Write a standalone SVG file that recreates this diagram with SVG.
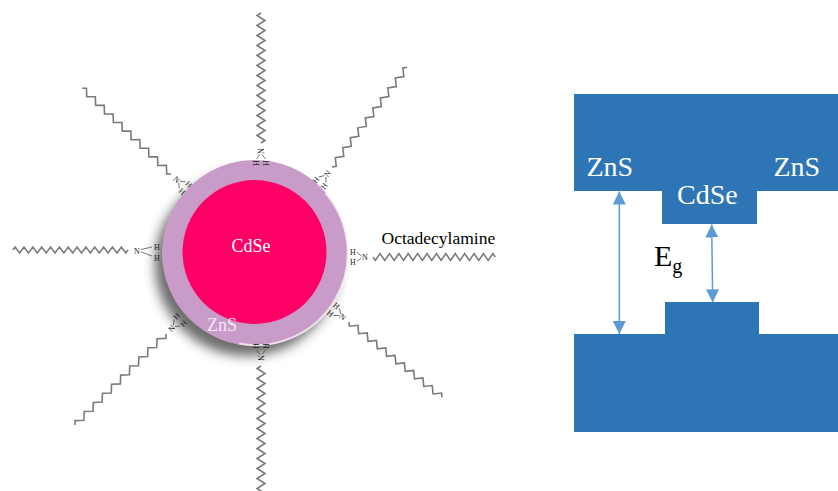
<svg xmlns="http://www.w3.org/2000/svg" xmlns:xlink="http://www.w3.org/1999/xlink" width="838" height="491" viewBox="0 0 838 491" font-family="'Liberation Serif', 'Times New Roman', serif">
  <style>
    .chain { fill: none; stroke: #7A7A7A; stroke-width: 1.6; stroke-linejoin: miter; vector-effect: non-scaling-stroke; }
    .bond { fill: none; stroke: #555555; stroke-width: 0.8; }
    .atom { font-family: 'Liberation Serif', 'Times New Roman', serif; font-size: 8px; fill: #222222; text-anchor: middle; }
    .band { fill: #2E75B6; }
    .bandlbl { font-family: 'Liberation Serif', 'Times New Roman', serif; font-size: 28px; fill: #FFFFFF; }
    .gap { stroke: #5B9BD5; stroke-width: 1.5; fill: none; marker-start: url(#tip); marker-end: url(#tip); }
  </style>
  <defs>
    <!-- alkyl chain running along +x, axis-aligned variant -->
    <path id="chainA" class="chain" d="M0,0 l2.5,4 l5,-8 l5,8 l5,-8 l5,8 l5,-8 l5,8 l5,-8 l5,8 l5,-8 l5,8 l5,-8 l5,8 l5,-8 l5,8 l5,-8 l5,8 l5,-8 l5,8 l5,-8 l5,8 l5,-8 l5,8 l5,-8 l5,8 l5,-8 l2.5,4"/>
    <!-- alkyl chain, longer bonds, used on the diagonals -->
    <path id="chainD" class="chain" d="M0,0 l3.25,3 l6.5,-6 l6.5,6 l6.5,-6 l6.5,6 l6.5,-6 l6.5,6 l6.5,-6 l6.5,6 l6.5,-6 l6.5,6 l6.5,-6 l6.5,6 l6.5,-6 l6.5,6 l6.5,-6 l6.5,6 l6.5,-6 l6.5,6 l6.5,-6 l3.25,3"/>
    <!-- amine head: chain leaves along +x, NH2 sits at -x -->
    <g id="headR">
      <text class="atom" x="-8" y="2.8">N</text>
      <line class="bond" x1="-11.5" y1="-1" x2="-16" y2="-4.5"/>
      <line class="bond" x1="-11.5" y1="1" x2="-16" y2="4.5"/>
      <text class="atom" x="-20" y="-2.2">H</text>
      <text class="atom" x="-20" y="7.8">H</text>
    </g>
    <!-- amine head: chain leaves along -x, NH2 sits at +x -->
    <g id="headL">
      <text class="atom" x="8" y="2.8">N</text>
      <line class="bond" x1="11.5" y1="-1" x2="16" y2="-4.5"/>
      <line class="bond" x1="11.5" y1="1" x2="16" y2="4.5"/>
      <text class="atom" x="20" y="-2.2">H</text>
      <text class="atom" x="20" y="7.8">H</text>
    </g>
    <filter id="soft" x="-30%" y="-30%" width="160%" height="160%">
      <feGaussianBlur stdDeviation="6"/>
    </filter>
    <marker id="tip" markerUnits="userSpaceOnUse" markerWidth="13" markerHeight="13" refX="13" refY="6.5" orient="auto-start-reverse" viewBox="0 0 13 13">
      <path d="M0,0 L13,6.5 L0,13 z" fill="#5B9BD5"/>
    </marker>
  </defs>

  <!-- core/shell nanocrystal -->
  <g id="particle">
    <circle cx="247" cy="264" r="92" fill="#3A3A3A" opacity="0.75" filter="url(#soft)"/>
    <circle cx="255" cy="253" r="93" fill="#C89BC8"/>
    <path d="M325.5,193.2 A92,92 0 0 1 239,343.6" fill="none" stroke="#FFFFFF" stroke-width="2" opacity="0.7"/>
    <circle cx="254.5" cy="252" r="72" fill="#FF0066"/>
    <text x="251" y="252" font-family="'Liberation Serif', 'Times New Roman', serif" font-size="18" fill="#FFFFFF" text-anchor="middle">CdSe</text>
    <text x="207" y="331" font-family="'Liberation Serif', 'Times New Roman', serif" font-size="18" fill="#F6E8F6">ZnS</text>
  </g>

  <!-- octadecylamine ligands -->
  <g id="ligand-top" transform="translate(261,143) rotate(-90)">
    <use xlink:href="#chainA"/>
    <use xlink:href="#headR"/>
  </g>
  <g id="ligand-bottom" transform="translate(261,366) rotate(90)">
    <use xlink:href="#chainA"/>
    <use xlink:href="#headR"/>
  </g>
  <g id="ligand-right" transform="translate(373,257)">
    <use xlink:href="#chainA" transform="scale(0.94,0.85)"/>
    <use xlink:href="#headR"/>
  </g>
  <g id="ligand-left">
    <use xlink:href="#chainA" transform="translate(128,250) scale(-0.885,0.75)"/>
    <text class="atom" x="137" y="253.5">N</text>
    <line class="bond" x1="141" y1="249.5" x2="152" y2="247"/>
    <line class="bond" x1="141" y1="252" x2="152" y2="256"/>
    <text class="atom" x="157" y="249.7">H</text>
    <text class="atom" x="157" y="260.7">H</text>
  </g>
  <g id="ligand-upper-left" transform="translate(171,174) rotate(44)">
    <use xlink:href="#chainD" transform="scale(-0.95,1)"/>
    <use xlink:href="#headL"/>
  </g>
  <g id="ligand-upper-right" transform="translate(332,167) rotate(-53)">
    <use xlink:href="#chainD" transform="scale(0.96,1)"/>
    <use xlink:href="#headR"/>
  </g>
  <g id="ligand-lower-left" transform="translate(166,334) rotate(-45)">
    <use xlink:href="#chainD" transform="scale(-0.99,1)"/>
    <use xlink:href="#headL"/>
  </g>
  <g id="ligand-lower-right" transform="translate(349,322) rotate(39)">
    <use xlink:href="#chainD" transform="scale(0.92,1)"/>
    <use xlink:href="#headR"/>
  </g>
  <text id="ligand-label" x="381.5" y="244.3" font-size="17.5" fill="#000000">Octadecylamine</text>

  <!-- band alignment diagram -->
  <g id="band-conduction">
    <path class="band" d="M574,94 H838 V191 H757 V224 H662 V191 H574 Z"/>
    <text class="bandlbl" x="586.5" y="176">ZnS</text>
    <text class="bandlbl" x="773.5" y="176">ZnS</text>
    <text class="bandlbl" x="677" y="204">CdSe</text>
  </g>
  <g id="band-valence">
    <path class="band" d="M574,334 H665 V302 H759 V334 H838 V432 H574 Z"/>
  </g>
  <g id="gap-label">
    <text x="654" y="266" font-size="30" fill="#000000">E<tspan font-size="20" dy="7">g</tspan></text>
  </g>

  <g id="connectors">
    <line class="gap" x1="619.3" y1="191.5" x2="619.3" y2="334"/>
    <line class="gap" x1="711.7" y1="224.5" x2="712.7" y2="302.3"/>
  </g>
</svg>
